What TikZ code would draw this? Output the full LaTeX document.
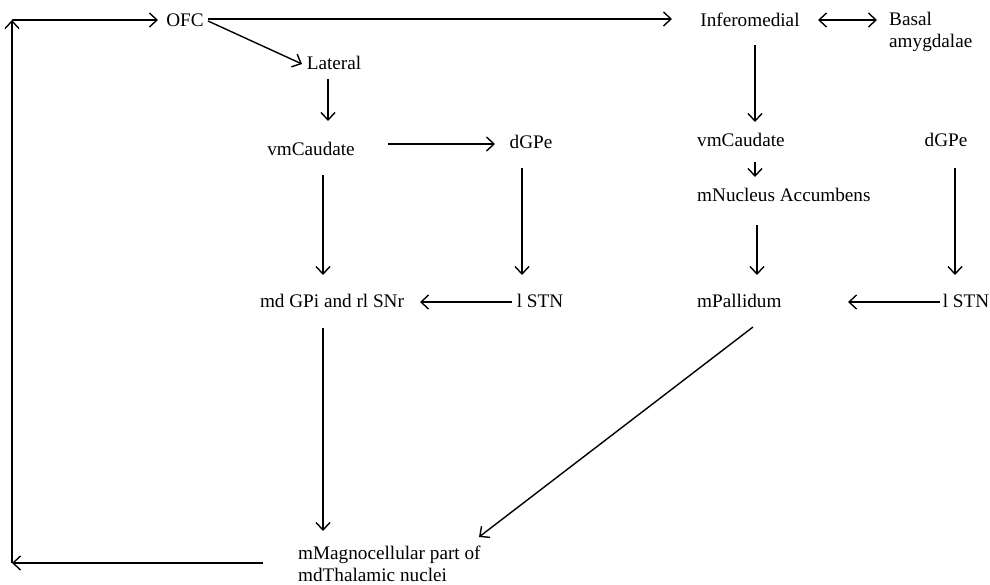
\documentclass[tikz,border=0pt]{standalone}
\usepackage{fontspec}
\setmainfont{Liberation Serif}
\usetikzlibrary{arrows.meta}
\begin{document}
\begin{tikzpicture}[x=1pt,y=-1pt,
  lbl/.style={inner sep=0pt, font=\fontsize{19.2}{22}\selectfont},
  arr/.style={draw=black, line width=1.4pt, -{Straight Barb[length=7.5pt,width=14pt]}},
  darr/.style={draw=black, line width=1.4pt, {Straight Barb[length=7.5pt,width=14pt]}-{Straight Barb[length=7.5pt,width=14pt]}}]
\useasboundingbox (0,0) rectangle (990,584);

% nodes
\node[lbl] (ofc) at (185,20) {OFC};
\node[lbl] (lat) at (334,63) {Lateral};
\node[lbl] (vmc1) at (311,149) {vmCaudate};
\node[lbl] (dgpe1) at (531,142) {dGPe};
\node[lbl] (gpi) at (332,301) {md GPi and rl SNr};
\node[lbl] (stn1) at (540,301) {l STN};
\node[lbl] (inf) at (750,20) {Inferomedial};
\node[lbl, anchor=west, align=left] (bas) at (889,32) {Basal\\amygdalae};
\node[lbl, anchor=west] (vmc2) at (697,140) {vmCaudate};
\node[lbl, anchor=west] (nac) at (697,195) {mNucleus Accumbens};
\node[lbl] (dgpe2) at (946,140) {dGPe};
\node[lbl, anchor=west] (pal) at (697,301) {mPallidum};
\node[lbl] (stn2) at (966,301) {l STN};
\node[lbl, anchor=west, align=left] (mag) at (298,564) {mMagnocellular part of\\mdThalamic nuclei};

% connector end points
\coordinate (lb1) at (263,563);
\coordinate (lb2) at (12,563);
\coordinate (lt) at (12,20);
\coordinate (ofcin) at (158,20);
\coordinate (ofco) at (208,19);
\coordinate (infin) at (672,19);
\coordinate (ofcd) at (208,21);
\coordinate (latin) at (302,64);
\coordinate (lato) at (328,79);
\coordinate (vmc1in) at (328,121);
\coordinate (vmc1r) at (388,144);
\coordinate (dgpe1in) at (495,144);
\coordinate (vmc1d) at (323,175);
\coordinate (gpiin) at (323,275);
\coordinate (dgpe1d) at (522,168);
\coordinate (stn1in) at (522,275);
\coordinate (stn1l) at (512,302);
\coordinate (gpir) at (420,302);
\coordinate (gpid) at (323,328);
\coordinate (magin) at (323,531);
\coordinate (infd) at (755,45);
\coordinate (vmc2in) at (755,122);
\coordinate (infr) at (818,20);
\coordinate (basl) at (877,20);
\coordinate (vmc2d) at (755,162);
\coordinate (nacin) at (755,177);
\coordinate (nacd) at (757,225);
\coordinate (palin) at (757,275);
\coordinate (dgpe2d) at (955,168);
\coordinate (stn2in) at (955,275);
\coordinate (stn2l) at (940,302);
\coordinate (palr) at (848,302);
\coordinate (pald) at (753,327);
\coordinate (magr) at (479,537);

% connectors
\draw[arr] (lb1) -- (lb2);
\draw[arr] (lb2) -- (lt);
\draw[arr] (lt) -- (ofcin);
\draw[arr] (ofco) -- (infin);
\draw[arr] (ofcd) -- (latin);
\draw[arr] (lato) -- (vmc1in);
\draw[arr] (vmc1r) -- (dgpe1in);
\draw[arr] (vmc1d) -- (gpiin);
\draw[arr] (dgpe1d) -- (stn1in);
\draw[arr] (stn1l) -- (gpir);
\draw[arr] (gpid) -- (magin);
\draw[arr] (infd) -- (vmc2in);
\draw[darr] (infr) -- (basl);
\draw[arr] (vmc2d) -- (nacin);
\draw[arr] (nacd) -- (palin);
\draw[arr] (dgpe2d) -- (stn2in);
\draw[arr] (stn2l) -- (palr);
\draw[arr] (pald) -- (magr);
\end{tikzpicture}
\end{document}
